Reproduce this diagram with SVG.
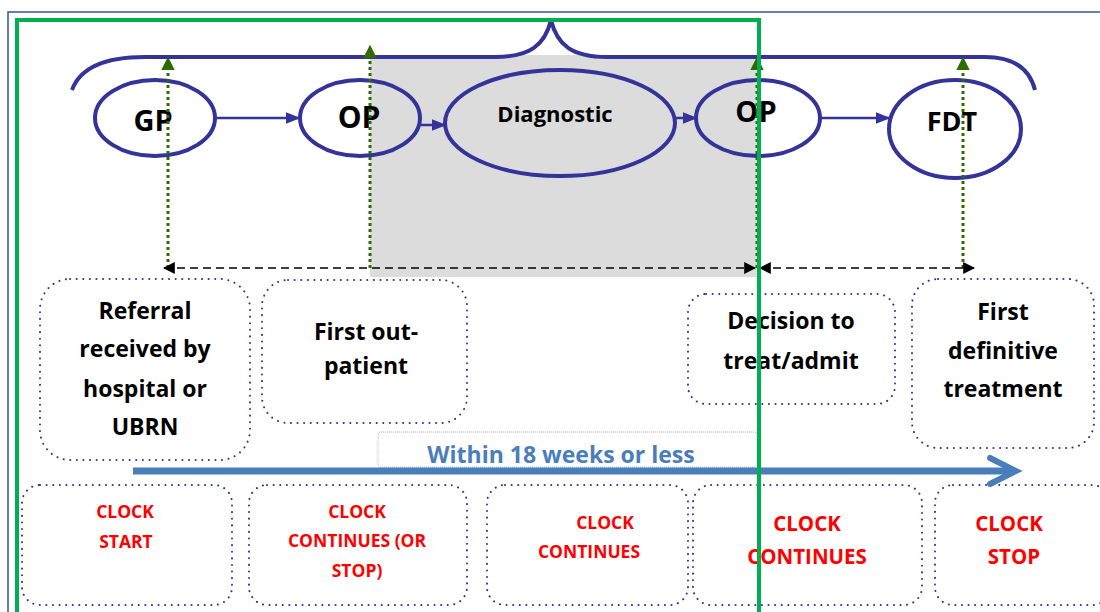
<svg xmlns="http://www.w3.org/2000/svg" width="1100" height="612" viewBox="0 0 1100 612">
  <defs>
    <style>
      .node { fill: none; stroke: #333399; stroke-width: 4; }
      .flow { stroke: #333399; stroke-width: 2.5; fill: none; }
      .guide { stroke: #2e6b00; stroke-width: 3; stroke-dasharray: 3 3; fill: none; }
      .span { stroke: #000; stroke-width: 1.5; stroke-dasharray: 8 5; fill: none; }
      .box { fill: none; stroke: #333399; stroke-width: 2; stroke-dasharray: 0.1 6.5; stroke-linecap: round; }
      .lbl { font-family: "Open Sans", "Liberation Sans", sans-serif; font-weight: bold; text-anchor: middle; fill: #000; }
      .clk { font-family: "Open Sans", "Liberation Sans", sans-serif; font-weight: bold; text-anchor: middle; fill: #ff0000; }
    </style>
    <marker id="flowHead" viewBox="0 0 10 10" refX="9" refY="5" markerWidth="6" markerHeight="6" markerUnits="strokeWidth" orient="auto">
      <path d="M0,1 L10,5 L0,9 z" fill="#333399"/>
    </marker>
    <marker id="guideHead" viewBox="0 0 10 10" refX="9" refY="5" markerWidth="4.5" markerHeight="4.5" markerUnits="strokeWidth" orient="auto">
      <path d="M0,0 L10,5 L0,10 z" fill="#2e6b00"/>
    </marker>
    <marker id="spanHead" viewBox="0 0 10 10" refX="9" refY="5" markerWidth="8" markerHeight="8" markerUnits="strokeWidth" orient="auto-start-reverse">
      <path d="M0,0 L10,5 L0,10 z" fill="#000"/>
    </marker>
  </defs>

  <rect width="1100" height="612" fill="#fff"/>

  <!-- shaded diagnostic phase -->
  <rect x="370" y="55" width="387" height="222" fill="#dcdcdc"/>

  <!-- outer frame -->
  <path d="M8,612 V12 H1100" fill="none" stroke="#2f5597" stroke-width="1.5"/>

  <!-- curly brace over the pathway -->
  <path d="M72,90 C80,68 105,57 145,57 H495 C530,57 545,45 551,20 C557,45 572,57 607,57 H985 C1015,57 1030,70 1035,90" fill="none" stroke="#333399" stroke-width="4"/>

  <!-- pathway nodes -->
  <g id="node-gp">
    <ellipse cx="155" cy="118" rx="60" ry="38" class="node" style="fill:#fff"/>
    <text x="153" y="131" class="lbl" font-size="29">GP</text>
  </g>
  <g id="node-op1">
    <ellipse cx="360" cy="118" rx="60" ry="38" class="node"/>
    <text x="359" y="128" class="lbl" font-size="30">OP</text>
  </g>
  <g id="node-diagnostic">
    <ellipse cx="560" cy="123" rx="115" ry="53" class="node"/>
    <text x="555" y="122" class="lbl" font-size="22">Diagnostic</text>
  </g>
  <g id="node-op2">
    <ellipse cx="758" cy="118" rx="62" ry="38" class="node"/>
    <text x="756" y="122" class="lbl" font-size="29">OP</text>
  </g>
  <g id="node-fdt">
    <ellipse cx="955" cy="129" rx="66" ry="49" class="node" style="fill:#fff"/>
    <text x="952" y="131" class="lbl" font-size="27">FDT</text>
  </g>

  <!-- milestone boxes -->
  <g id="box-referral">
    <rect x="40" y="279" width="210" height="181" rx="30" class="box"/>
    <text class="lbl" font-size="23"><tspan x="145" y="319">Referral</tspan><tspan x="145" y="357">received by</tspan><tspan x="145" y="397">hospital or</tspan><tspan x="145" y="435">UBRN</tspan></text>
  </g>
  <g id="box-first-op">
    <rect x="262" y="280" width="205" height="143" rx="26" class="box"/>
    <text class="lbl" font-size="23"><tspan x="366" y="340">First out-</tspan><tspan x="366" y="374">patient</tspan></text>
  </g>
  <g id="box-decision">
    <rect x="688" y="294" width="207" height="110" rx="18" class="box"/>
    <text class="lbl" font-size="23"><tspan x="791" y="329">Decision to</tspan><tspan x="791" y="369">treat/admit</tspan></text>
  </g>
  <g id="box-treatment">
    <rect x="912" y="279" width="182" height="169" rx="26" class="box"/>
    <text class="lbl" font-size="23"><tspan x="1003" y="320">First</tspan><tspan x="1003" y="359">definitive</tspan><tspan x="1003" y="397">treatment</tspan></text>
  </g>

  <!-- 18 week banner -->
  <g id="banner">
    <rect x="378" y="432" width="379" height="35" rx="3" fill="none" stroke="#b0b0c0" stroke-width="1" stroke-dasharray="1 1"/>
    <text x="561" y="463" font-family="'Open Sans', 'Liberation Sans', sans-serif" font-weight="bold" font-size="23" fill="#4a7ebb" text-anchor="middle">Within 18 weeks or less</text>
  </g>

  <!-- clock status boxes -->
  <g id="clock-start">
    <rect x="22" y="485" width="210" height="120" rx="18" class="box"/>
    <text class="clk" font-size="17.5"><tspan x="125" y="518">CLOCK</tspan><tspan x="126" y="548">START</tspan></text>
  </g>
  <g id="clock-continues-or-stop">
    <rect x="249" y="485" width="218" height="120" rx="18" class="box"/>
    <text class="clk" font-size="17.5"><tspan x="357" y="518">CLOCK</tspan><tspan x="357" y="547">CONTINUES (OR</tspan><tspan x="357" y="577">STOP)</tspan></text>
  </g>
  <g id="clock-continues">
    <rect x="487" y="485" width="201" height="120" rx="18" class="box"/>
    <text class="clk" font-size="17.5"><tspan x="605" y="529">CLOCK</tspan><tspan x="589" y="558">CONTINUES</tspan></text>
  </g>
  <g id="clock-continues-2">
    <rect x="693" y="485" width="229" height="120" rx="18" class="box"/>
    <text class="clk" font-size="20.5"><tspan x="807" y="531">CLOCK</tspan><tspan x="807" y="564">CONTINUES</tspan></text>
  </g>
  <g id="clock-stop">
    <rect x="935" y="485" width="175" height="120" rx="18" class="box"/>
    <text class="clk" font-size="20.5"><tspan x="1009" y="531">CLOCK</tspan><tspan x="1014" y="564">STOP</tspan></text>
  </g>

  <!-- connectors -->
  <g id="connectors">
    <line x1="216" y1="118" x2="299" y2="118" class="flow" marker-end="url(#flowHead)"/>
    <line x1="421" y1="125" x2="445" y2="125" class="flow" marker-end="url(#flowHead)"/>
    <line x1="675" y1="118" x2="696" y2="118" class="flow" marker-end="url(#flowHead)"/>
    <line x1="820" y1="118" x2="889" y2="118" class="flow" marker-end="url(#flowHead)"/>

    <line x1="168" y1="268" x2="168" y2="58" class="guide" marker-end="url(#guideHead)"/>
    <line x1="370" y1="268" x2="370" y2="46" class="guide" marker-end="url(#guideHead)"/>
    <line x1="757" y1="268" x2="757" y2="58" class="guide" marker-end="url(#guideHead)"/>
    <line x1="963" y1="268" x2="963" y2="58" class="guide" marker-end="url(#guideHead)"/>

    <line x1="164" y1="268" x2="755" y2="268" class="span" marker-start="url(#spanHead)" marker-end="url(#spanHead)"/>
    <line x1="760" y1="268" x2="974" y2="268" class="span" marker-start="url(#spanHead)" marker-end="url(#spanHead)"/>

    <!-- 18 week timeline arrow -->
    <line x1="133" y1="471" x2="1014" y2="471" stroke="#4a7ebb" stroke-width="7"/>
    <path d="M990,458 L1016,471 L990,484" fill="none" stroke="#4a7ebb" stroke-width="6" stroke-linecap="round" stroke-linejoin="miter"/>
  </g>

  <!-- green highlight frame -->
  <path d="M17,612 V20 H759 V612" fill="none" stroke="#00b050" stroke-width="4"/>
</svg>
